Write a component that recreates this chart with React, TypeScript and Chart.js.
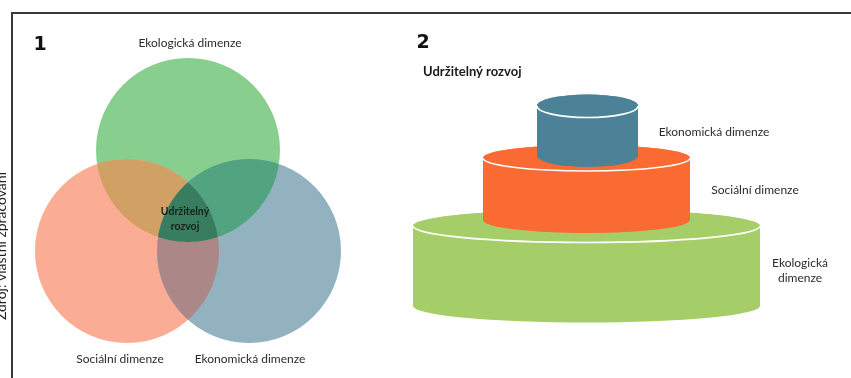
import React, { useEffect, useRef } from 'react';
import { Chart, registerables } from 'chart.js';

Chart.register(...registerables);

const W = 851;
const H = 378;

// Panel 1 – Venn diagram (data units = pixels of the 851×378 frame)
const vennLabels = ['Ekologická dimenze', 'Sociální dimenze', 'Ekonomická dimenze'];
const vennCenterX = [188, 127, 249];
const vennCenterY = [150, 251, 251];
const vennRadius = [92, 92, 92];
const vennLabelX = [190, 120, 250];
const vennLabelY = [43, 359, 359];
const vennCoreText = ['Udržitelný', 'rozvoj'];
const vennCoreX = [185, 185];
const vennCoreY = [212, 227];

// Panel 2 – stacked cylinders (bottom to top)
const cylLabels = [['Ekologická', 'dimenze'], ['Sociální dimenze'], ['Ekonomická dimenze']];
const cylCenterX = [586.5, 586.5, 587.5];
const cylTopY = [226, 158, 106];
const cylBottomY = [306, 220, 155.5];
const cylRadiusX = [173.5, 103.5, 50.5];
const cylRadiusY = [16.5, 13, 11.5];
const cylLabelX = [800, 755, 714];
const cylLabelY = [[263, 278], [190], [132]];

const panelNumbers = ['1', '2'];
const panelNumberX = [40, 423];
const panelNumberY = [45, 43];
const panel2Title = 'Udržitelný rozvoj';
const sourceNote = 'Zdroj: vlastní zpracování';

// styles
const vennColors = ['#88CF8F', '#FAAC94', '#91B2BE'];
const pairColors: Record<string, string> = { '0-1': '#D0A064', '0-2': '#52A380', '1-2': '#AC8787' };
const tripleColor = '#387D5F';
const cylColors = ['#A5CE68', '#FA6B34', '#4B8298'];
const textColor = '#2b2b2b';
const labelFont = '12px Lato, "Open Sans", sans-serif';

const drawPlugin = {
  id: 'diagramDraw',
  afterDraw(chart: any) {
    const ctx: CanvasRenderingContext2D = chart.ctx;
    const xs = chart.scales.x;
    const ys = chart.scales.y;
    const px = (v: number) => xs.getPixelForValue(v);
    const py = (v: number) => ys.getPixelForValue(v);
    const lx = (v: number) => Math.abs(xs.getPixelForValue(v) - xs.getPixelForValue(0));
    const ly = (v: number) => Math.abs(ys.getPixelForValue(v) - ys.getPixelForValue(0));

    ctx.save();
    // frame lines
    ctx.strokeStyle = '#3a3a3a';
    ctx.lineWidth = 2;
    ctx.beginPath();
    ctx.moveTo(px(12), py(H));
    ctx.lineTo(px(12), py(13));
    ctx.lineTo(px(W), py(13));
    ctx.stroke();

    // source note (rotated, cut at the left edge)
    ctx.save();
    ctx.translate(px(1), py(172));
    ctx.rotate(-Math.PI / 2);
    ctx.fillStyle = '#222';
    ctx.font = '14px Lato, sans-serif';
    ctx.textAlign = 'right';
    ctx.textBaseline = 'middle';
    ctx.fillText(sourceNote, 0, 0);
    ctx.restore();

    // Venn circles
    const circ = (i: number) => {
      ctx.beginPath();
      ctx.arc(px(vennCenterX[i]), py(vennCenterY[i]), lx(vennRadius[i]), 0, Math.PI * 2);
    };
    for (let i = 0; i < 3; i++) {
      circ(i);
      ctx.fillStyle = vennColors[i];
      ctx.fill();
    }
    for (let a = 0; a < 3; a++) {
      for (let b = a + 1; b < 3; b++) {
        ctx.save();
        circ(a);
        ctx.clip();
        circ(b);
        ctx.fillStyle = pairColors[`${a}-${b}`];
        ctx.fill();
        ctx.restore();
      }
    }
    ctx.save();
    circ(0);
    ctx.clip();
    circ(1);
    ctx.clip();
    circ(2);
    ctx.fillStyle = tripleColor;
    ctx.fill();
    ctx.restore();

    ctx.fillStyle = textColor;
    ctx.textAlign = 'center';
    ctx.textBaseline = 'middle';
    ctx.font = labelFont;
    vennLabels.forEach((t, i) => ctx.fillText(t, px(vennLabelX[i]), py(vennLabelY[i])));
    ctx.fillStyle = '#14231a';
    ctx.font = 'bold 10.5px Lato, sans-serif';
    vennCoreText.forEach((t, i) => ctx.fillText(t, px(vennCoreX[i]), py(vennCoreY[i])));

    // cylinders
    for (let i = 0; i < cylCenterX.length; i++) {
      const cx = px(cylCenterX[i]);
      const top = py(cylTopY[i]);
      const bot = py(cylBottomY[i]);
      const rx = lx(cylRadiusX[i]);
      const ry = ly(cylRadiusY[i]);
      ctx.fillStyle = cylColors[i];
      ctx.beginPath();
      ctx.moveTo(cx - rx, top);
      ctx.lineTo(cx - rx, bot);
      ctx.ellipse(cx, bot, rx, ry, 0, Math.PI, 0, true);
      ctx.lineTo(cx + rx, top);
      ctx.ellipse(cx, top, rx, ry, 0, 0, Math.PI, true);
      ctx.closePath();
      ctx.fill();
      ctx.beginPath();
      ctx.ellipse(cx, top, rx, ry, 0, 0, Math.PI * 2);
      ctx.fill();
      ctx.strokeStyle = '#ffffff';
      ctx.lineWidth = 1.6;
      ctx.beginPath();
      ctx.ellipse(cx, top, rx, ry, 0, 0, Math.PI, false);
      ctx.stroke();
    }

    ctx.fillStyle = textColor;
    ctx.font = labelFont;
    ctx.textAlign = 'center';
    cylLabels.forEach((lines, i) =>
      lines.forEach((t, j) => ctx.fillText(t, px(cylLabelX[i]), py(cylLabelY[i][j])))
    );

    // panel numbers and title
    ctx.fillStyle = '#111';
    ctx.font = 'bold 19px "DejaVu Sans", sans-serif';
    panelNumbers.forEach((t, i) => ctx.fillText(t, px(panelNumberX[i]), py(panelNumberY[i])));
    ctx.textAlign = 'left';
    ctx.font = 'bold 13px Lato, sans-serif';
    ctx.fillStyle = '#1a1a1a';
    ctx.fillText(panel2Title, px(423), py(72));
    ctx.restore();
  },
};

export default function App() {
  const ref = useRef<HTMLCanvasElement | null>(null);
  useEffect(() => {
    document.body.style.margin = '0';
    const canvas = ref.current;
    if (!canvas) return;
    const chart = new Chart(canvas, {
      type: 'scatter',
      data: { datasets: [{ data: [], pointRadius: 0 }] },
      options: {
        animation: false,
        responsive: false,
        devicePixelRatio: 1,
        layout: { padding: 0 },
        plugins: { legend: { display: false }, tooltip: { enabled: false } },
        scales: {
          x: { type: 'linear', min: 0, max: W, display: false },
          y: { type: 'linear', min: 0, max: H, reverse: true, display: false },
        },
      },
      plugins: [drawPlugin],
    });
    return () => chart.destroy();
  }, []);
  return (
    <div style={{ width: W, height: H, background: '#fff' }}>
      <canvas ref={ref} width={W} height={H} style={{ display: 'block' }} />
    </div>
  );
}
